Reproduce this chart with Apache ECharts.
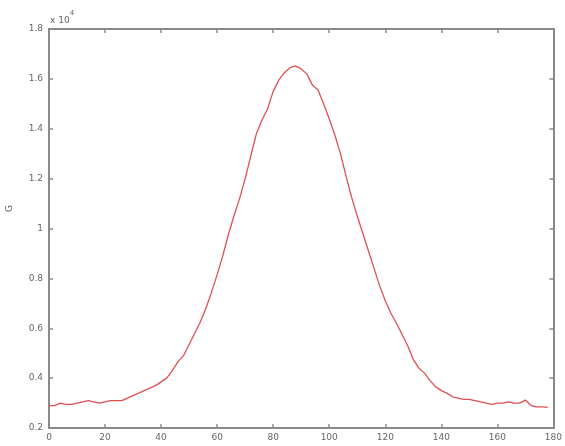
<!DOCTYPE html>
<html>
<head>
<meta charset="utf-8">
<script src="https://cdn.jsdelivr.net/npm/echarts@6/dist/echarts.min.js"></script>
<style>html,body{margin:0;padding:0;background:#fff}#c{width:565px;height:446px}</style>
</head>
<body>
<div id="c"></div>
<script>
// x positions (samples) and signal values (units of 10^4)
const xValues = [0,2,4,6,8,10,12,14,16,18,20,22,24,26,28,30,32,34,36,38,40,42,44,46,48,50,52,54,56,58,60,62,64,66,68,70,72,74,76,78,80,82,84,86,88,90,92,94,96,98,100,102,104,106,108,110,112,114,116,118,120,122,124,126,128,130,132,134,136,138,140,142,144,146,148,150,152,154,156,158,160,162,164,166,168,170,172,174,176,178];
const yValues = [0.29,0.29,0.30,0.295,0.295,0.30,0.305,0.31,0.305,0.30,0.305,0.31,0.31,0.31,0.32,0.33,0.34,0.35,0.36,0.37,0.385,0.40,0.43,0.465,0.49,0.535,0.58,0.625,0.68,0.745,0.815,0.89,0.975,1.05,1.12,1.20,1.29,1.38,1.435,1.48,1.55,1.595,1.625,1.645,1.652,1.64,1.62,1.575,1.555,1.50,1.44,1.375,1.30,1.21,1.125,1.05,0.98,0.91,0.84,0.77,0.71,0.66,0.62,0.575,0.53,0.475,0.44,0.42,0.39,0.365,0.35,0.34,0.325,0.32,0.315,0.315,0.31,0.305,0.30,0.295,0.30,0.30,0.305,0.30,0.30,0.312,0.29,0.285,0.285,0.283];
const xTicks = [0,20,40,60,80,100,120,140,160,180];
const yTicks = [0.2,0.4,0.6,0.8,1,1.2,1.4,1.6,1.8];

const axisColor = '#8a8a8a';
const labelColor = '#666';
const chart = echarts.init(document.getElementById('c'));
const baseAxis = {
  axisLine: {show: true, onZero: false, lineStyle: {color: axisColor, width: 2}},
  axisTick: {show: true, inside: true, length: 4, lineStyle: {color: axisColor, width: 1.5}},
  splitLine: {show: false}
};
chart.setOption({
  animation: false,
  grid: {left: 49, right: 9, top: 29, bottom: 18},
  xAxis: [
    Object.assign({}, baseAxis, {type: 'value', min: xTicks[0], max: xTicks[xTicks.length-1], interval: 20, position: 'bottom',
      axisLabel: {color: labelColor, fontSize: 9, margin: 5, fontFamily: 'DejaVu Sans'}}),
    Object.assign({}, baseAxis, {type: 'value', min: xTicks[0], max: xTicks[xTicks.length-1], interval: 20, position: 'top',
      axisLabel: {show: false}})
  ],
  yAxis: [
    Object.assign({}, baseAxis, {type: 'value', min: yTicks[0], max: yTicks[yTicks.length-1], interval: 0.2, position: 'left',
      axisLabel: {color: labelColor, fontSize: 9, margin: 6, fontFamily: 'DejaVu Sans',
        formatter: v => String(Math.round(v * 10) / 10)}}),
    Object.assign({}, baseAxis, {type: 'value', min: yTicks[0], max: yTicks[yTicks.length-1], interval: 0.2, position: 'right',
      axisLabel: {show: false}})
  ],
  graphic: [
    {type: 'text', left: 50, top: 10, style: {
      text: '{a|x 10}{b|4}',
      rich: {a: {fontSize: 9, fill: labelColor, fontFamily: 'DejaVu Sans', verticalAlign: 'bottom'},
             b: {fontSize: 7, fill: labelColor, fontFamily: 'DejaVu Sans', padding: [0,0,8,0]}}
    }},
    {type: 'text', left: 5, top: 205, rotation: Math.PI / 2, style: {text: 'G', fontSize: 9, fill: labelColor, fontFamily: 'DejaVu Sans'}}
  ],
  series: [{
    type: 'line',
    data: xValues.map((x, i) => [x, yValues[i]]),
    showSymbol: false,
    lineStyle: {color: '#e05050', width: 1.3},
    smooth: false
  }]
});
</script>
</body>
</html>
